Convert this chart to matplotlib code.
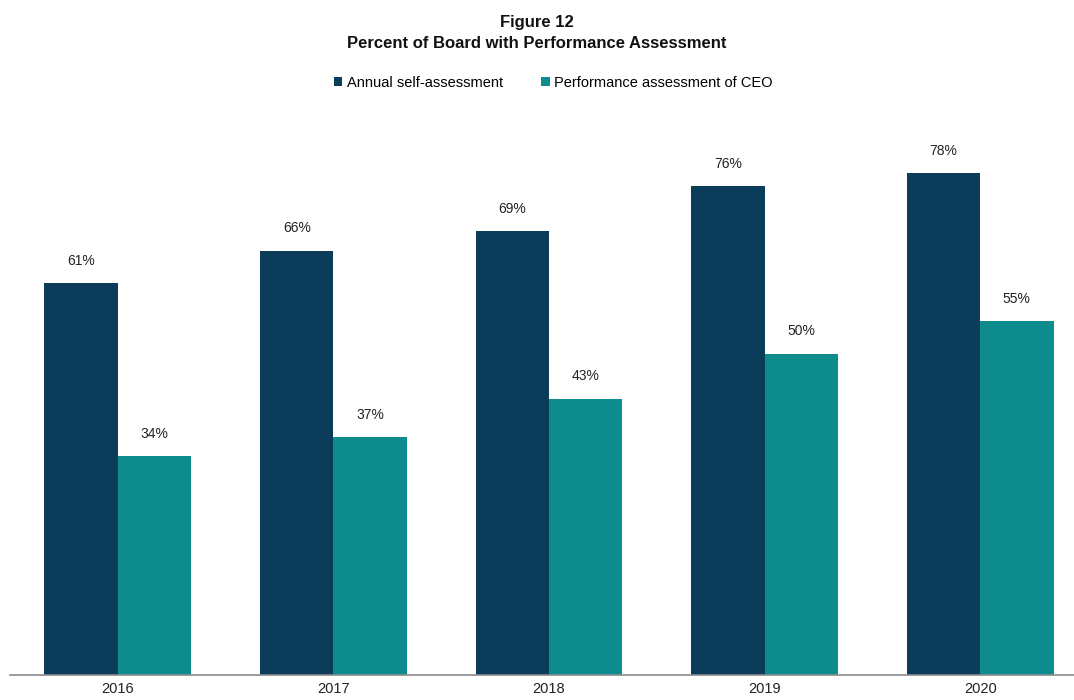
import matplotlib.pyplot as plt
import numpy as np

# Data
years = ["2016", "2017", "2018", "2019", "2020"]
self_assessment = [61, 66, 69, 76, 78]
ceo_assessment = [34, 37, 43, 50, 55]

NAVY = "#0B3D5B"
TEAL = "#0E8B8C"

plt.rcParams["font.family"] = ["Liberation Sans", "DejaVu Sans"]

fig = plt.figure(figsize=(10.74, 7.0), dpi=100)
# axes in pixel terms: left 10, right ~1088, baseline at y=675, 6.43 px per %
ymax = 85
px_per = 6.43
ax_h = ymax * px_per
ax = fig.add_axes([10 / 1074, (700 - 675) / 700, 1078 / 1074, ax_h / 700])

x = np.arange(len(years))
w = 0.34
b1 = ax.bar(x - w / 2, self_assessment, w, color=NAVY, label="Annual self-assessment")
b2 = ax.bar(x + w / 2, ceo_assessment, w, color=TEAL, label="Performance assessment of CEO")

for bars, vals in ((b1, self_assessment), (b2, ceo_assessment)):
    for b, v in zip(bars, vals):
        ax.annotate(f"{v}%", (b.get_x() + b.get_width() / 2, v),
                    xytext=(0, 16), textcoords="offset points",
                    ha="center", va="center", fontsize=10, color="#222222")

ax.set_xlim(-0.5, len(years) - 0.5)
ax.set_ylim(0, ymax)
ax.set_xticks(x)
ax.set_xticklabels(years, fontsize=10.5, color="#222222")
ax.set_yticks([])
for s in ("top", "right", "left"):
    ax.spines[s].set_visible(False)
ax.spines["bottom"].set_color("#8a8a8a")
ax.spines["bottom"].set_linewidth(1.2)
ax.tick_params(axis="x", length=0, pad=5)

fig.text(0.5, 1 - 22 / 700, "Figure 12", ha="center", va="center",
         fontsize=12, fontweight="bold", color="#111111")
fig.text(0.5, 1 - 43 / 700, "Percent of Board with Performance Assessment",
         ha="center", va="center", fontsize=12, fontweight="bold", color="#111111")

fig.legend(handles=[b1, b2], loc="center", bbox_to_anchor=(0.515, 1 - 83 / 700),
           ncol=2, frameon=False, fontsize=10.5, handlelength=0.6, handleheight=0.6,
           handletextpad=0.3, columnspacing=2.6)

fig.savefig("out.png", dpi=100)
